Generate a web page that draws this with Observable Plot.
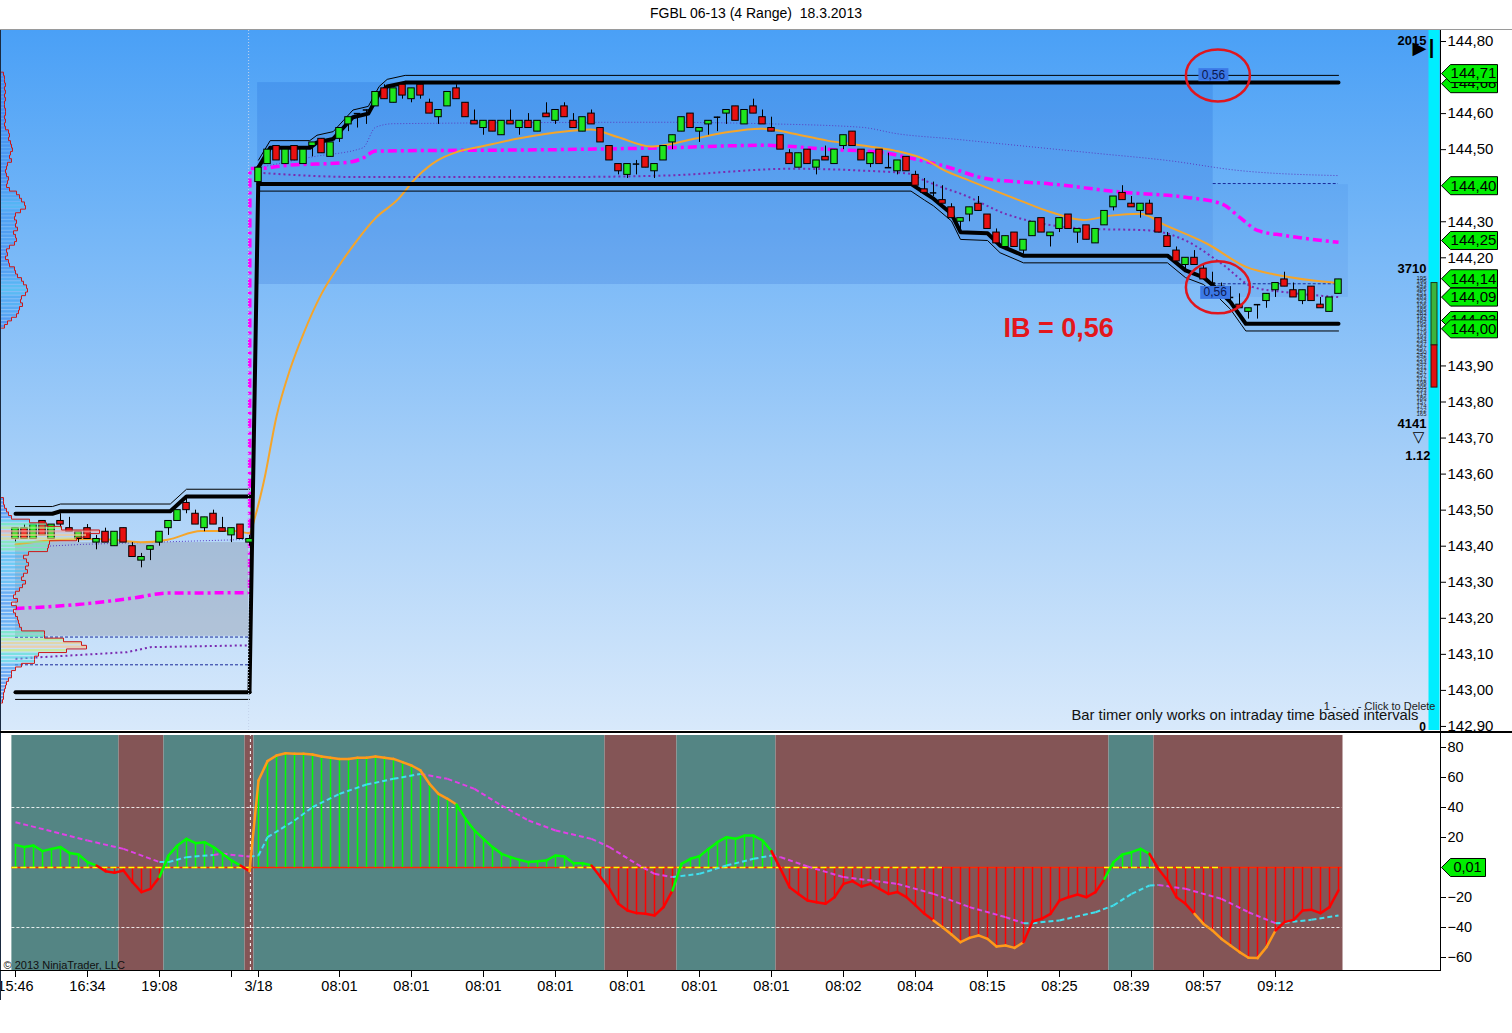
<!DOCTYPE html>
<html><head><meta charset="utf-8">
<script src="https://cdn.jsdelivr.net/npm/d3@7"></script>
<script src="https://cdn.jsdelivr.net/npm/@observablehq/plot@0.6"></script>
<style>
body{margin:0;background:#fff;font-family:"Liberation Sans",Arial,"DejaVu Sans",sans-serif;}
#wrap{position:relative;width:1512px;height:1033px;overflow:hidden;background:#fff;}
.abs{position:absolute;}
#title{left:0;top:5px;width:1512px;text-align:center;font-size:14px;color:#000;}
#bg{left:0;top:30px;width:1440px;height:700px;background:linear-gradient(to bottom,#4aa0f6 0%,#76b7f7 30%,#a6cff8 62%,#d8e9fb 100%);}
svg.abs{left:0;}
</style></head>
<body><div id="wrap">
<div id="title" class="abs">FGBL 06-13 (4 Range)&nbsp;&nbsp;18.3.2013</div>
<div id="bg" class="abs"></div>
</div>
<script>
// ---------------- DATA ----------------
// candles (range bars), index 0..26 = previous session, 27..147 = 18.3.2013
const open = [
143.42,143.45,143.42,143.47,143.42,143.47,143.45,143.42,143.45,143.41,
143.44,143.40,143.45,143.40,143.36,143.39,143.41,143.45,143.47,143.52,
143.49,143.45,143.49,143.45,143.43,143.46,143.41,144.41,144.46,144.51,
144.46,144.51,144.46,144.51,144.53,144.48,144.53,144.57,144.60,144.61,
144.62,144.67,144.63,144.68,144.64,144.68,144.63,144.59,144.62,144.67,
144.63,144.58,144.56,144.58,144.54,144.58,144.56,144.58,144.55,144.60,
144.58,144.62,144.58,144.55,144.60,144.56,144.51,144.46,144.43,144.46,
144.48,144.44,144.47,144.52,144.55,144.60,144.55,144.57,144.59,144.60,
144.62,144.57,144.62,144.59,144.56,144.54,144.49,144.45,144.50,144.45,
144.48,144.46,144.51,144.55,144.50,144.46,144.50,144.45,144.44,144.48,
144.43,144.39,144.38,144.36,144.34,144.30,144.32,144.35,144.32,144.27,
144.23,144.27,144.22,144.26,144.31,144.26,144.28,144.32,144.27,144.29,
144.24,144.29,144.34,144.38,144.35,144.33,144.35,144.31,144.26,144.22,
144.18,144.20,144.17,144.13,144.12,144.09,144.07,144.05,144.07,144.08,
144.11,144.14,144.11,144.08,144.12,144.07,144.05,144.10];
const high = [
143.45,143.46,143.46,143.47,143.46,143.49,143.48,143.44,143.46,143.43,
143.45,143.44,143.45,143.41,143.38,143.40,143.44,143.47,143.50,143.53,
143.50,143.48,143.50,143.48,143.45,143.46,143.43,144.45,144.50,144.51,
144.50,144.51,144.50,144.52,144.53,144.52,144.56,144.59,144.60,144.61,
144.66,144.68,144.67,144.68,144.67,144.68,144.64,144.61,144.66,144.68,
144.63,144.61,144.58,144.58,144.58,144.61,144.58,144.60,144.58,144.63,
144.61,144.63,144.60,144.59,144.61,144.56,144.51,144.46,144.46,144.47,
144.48,144.46,144.51,144.54,144.59,144.60,144.56,144.58,144.59,144.61,
144.62,144.61,144.64,144.61,144.59,144.54,144.50,144.49,144.50,144.47,
144.51,144.50,144.54,144.55,144.50,144.49,144.50,144.49,144.47,144.48,
144.44,144.42,144.41,144.40,144.35,144.31,144.34,144.37,144.32,144.28,
144.26,144.27,144.25,144.30,144.31,144.27,144.31,144.32,144.28,144.29,
144.28,144.33,144.37,144.40,144.37,144.35,144.36,144.31,144.27,144.23,
144.20,144.22,144.18,144.16,144.13,144.12,144.10,144.06,144.07,144.10,
144.13,144.16,144.13,144.11,144.12,144.09,144.09,144.14];
const low = [
143.41,143.42,143.42,143.43,143.42,143.45,143.44,143.41,143.42,143.39,
143.41,143.40,143.41,143.37,143.34,143.36,143.40,143.43,143.47,143.49,
143.46,143.44,143.46,143.44,143.41,143.42,143.40,144.40,144.46,144.47,
144.46,144.47,144.46,144.48,144.49,144.48,144.52,144.55,144.56,144.57,
144.62,144.64,144.63,144.64,144.63,144.64,144.60,144.57,144.62,144.64,
144.59,144.57,144.54,144.55,144.54,144.57,144.54,144.56,144.55,144.59,
144.57,144.59,144.56,144.55,144.57,144.52,144.47,144.43,144.42,144.43,
144.45,144.42,144.47,144.50,144.55,144.56,144.52,144.54,144.55,144.57,
144.58,144.57,144.60,144.57,144.55,144.50,144.46,144.45,144.46,144.43,
144.47,144.46,144.50,144.51,144.47,144.45,144.46,144.45,144.43,144.44,
144.40,144.38,144.37,144.35,144.31,144.27,144.30,144.33,144.28,144.24,
144.22,144.23,144.21,144.26,144.27,144.23,144.27,144.28,144.24,144.25,
144.24,144.29,144.33,144.36,144.34,144.31,144.32,144.27,144.23,144.19,
144.16,144.18,144.14,144.12,144.09,144.08,144.06,144.03,144.03,144.06,
144.09,144.12,144.09,144.07,144.08,144.06,144.05,144.10];
const close = [
143.45,143.42,143.46,143.43,143.46,143.46,143.44,143.44,143.42,143.42,
143.41,143.44,143.41,143.37,143.37,143.40,143.44,143.47,143.50,143.50,
143.46,143.48,143.46,143.44,143.45,143.42,143.42,144.45,144.50,144.47,
144.50,144.47,144.50,144.52,144.49,144.52,144.56,144.59,144.60,144.61,
144.66,144.64,144.67,144.65,144.67,144.65,144.60,144.61,144.66,144.64,
144.59,144.57,144.58,144.55,144.58,144.57,144.58,144.56,144.58,144.59,
144.61,144.59,144.56,144.59,144.57,144.52,144.47,144.44,144.46,144.46,
144.45,144.46,144.51,144.54,144.59,144.56,144.56,144.58,144.59,144.61,
144.58,144.61,144.60,144.57,144.55,144.50,144.46,144.49,144.46,144.47,
144.47,144.50,144.54,144.51,144.47,144.49,144.46,144.45,144.47,144.44,
144.40,144.38,144.38,144.35,144.31,144.31,144.34,144.33,144.28,144.24,
144.26,144.23,144.25,144.30,144.27,144.27,144.31,144.28,144.28,144.25,
144.28,144.33,144.37,144.36,144.34,144.35,144.32,144.27,144.23,144.19,
144.20,144.18,144.14,144.13,144.09,144.09,144.06,144.06,144.07,144.10,
144.13,144.12,144.09,144.11,144.08,144.06,144.09,144.14];

// indicator lines: [bar index, price]
const preHigh = [[0,143.49],[4.1,143.49],[5,143.497],[17.2,143.497],[19,143.538],[26,143.538]];
const preLow = [[0,142.995],[26,142.995]];
const sessHigh = [[27,144.451],[28.3,144.505],[32.7,144.505],[33.5,144.52],[35.3,144.53],[36.4,144.56],[37.5,144.59],[39.2,144.60],[40.4,144.655],[41.3,144.675],[43.3,144.686],[147,144.686]];
const sessLow = [[27,144.405],[99.5,144.405],[101,144.38],[102,144.364],[104,144.322],[105,144.271],[108,144.268],[109.4,144.234],[112,144.206],[128,144.206],[130,144.165],[132,144.146],[133.7,144.109],[135,144.077],[136.7,144.017],[147,144.017]];
const THIN = 0.02; // offset of the thin companion lines
const upperDotPre = [[3.5,143.40],[7.4,143.405],[26,143.419]];
const upperDot = [[27,144.45],[33,144.48],[38.6,144.505],[40,144.562],[42,144.572],[72,144.576],[83,144.572],[94,144.562],[98,144.544],[104,144.53],[110,144.515],[120,144.49],[128,144.47],[136,144.442],[147,144.428]];
const lowerDotPre = [[0,143.088],[12.4,143.106],[15,143.12],[26,143.125]];
const lowerDot = [[27,144.436],[38,144.424],[60,144.424],[72,144.428],[86.4,144.447],[94,144.442],[99.4,144.433],[100.5,144.42],[103,144.395],[105,144.378],[110,144.322],[118.7,144.281],[126,144.276],[130,144.248],[134,144.184],[137.6,144.118],[141,144.105],[147,144.091]];
const magentaLine = [[0,143.227],[7.6,143.24],[13.3,143.257],[16.8,143.27],[26,143.271],[26.05,144.448],[27,144.448],[30,144.456],[37,144.465],[38.5,144.475],[40,144.496],[60,144.50],[72,144.505],[83,144.512],[91,144.50],[96,144.493],[99,144.479],[103,144.456],[108,144.419],[115,144.405],[123,144.382],[130,144.368],[134,144.35],[136,144.313],[138,144.276],[141,144.262],[147,144.243]];
const orangeLine = [[0,143.405],[3.9,143.416],[9.4,143.42],[13.9,143.411],[16.9,143.418],[20.6,143.442],[24.3,143.442],[26,143.436],[26.6,143.48],[27.6,143.58],[29,143.76],[30.5,143.89],[32,143.99],[34,144.10],[36,144.18],[38,144.25],[40,144.31],[42.4,144.36],[44.6,144.424],[46.9,144.47],[49,144.493],[52,144.51],[55.7,144.53],[61.3,144.551],[63.9,144.556],[66.9,144.535],[70.6,144.509],[72,144.512],[75.4,144.53],[79,144.548],[82.8,144.558],[84,144.556],[86.5,144.544],[90.2,144.525],[93.9,144.512],[97.6,144.498],[101.3,144.47],[103,144.445],[106,144.414],[111.5,144.36],[115,144.327],[118.7,144.305],[121.7,144.317],[125,144.322],[127.8,144.29],[132.4,144.239],[136.8,144.174],[140.5,144.151],[146.1,144.132],[147,144.13]];

// value-area boxes and dashed levels
const preVA = {x1:0, x2:25.9, y1:143.15, y2:143.41};
const ibBox = {x1:26.9, x2:133.08, y1:144.126, y2:144.686};
const box2 = {x1:133.08, x2:148.1, y1:144.09, y2:144.403};
const dashLevels = [{a:0,b:26,p:143.148},{a:0,b:26,p:143.071},{a:133.08,b:147,p:144.406},{a:133.08,b:147,p:144.128}];
const sessionBreak = 25.9;

// volume profiles (width units), price ladder step 0.01 from top
const sessProfTop = 144.71;
const sessProfVol = [2,3,3,4,3,4,3,4,3,3, 4,4,3,4,3,4,7,8,7,9, 10,11,9,8,10,6,5,4,5,7, 6,5,8,15,18,20,23,24,19,14, 13,15,14,16,12,14,15,13,8,5, 6,4,7,8,13,14,16,20,22,25, 26,24,20,19,21,18,17,15,10,6, 3];
const preProfTop = 143.53;
const preProfVol = [2,2,3,5,7,10,28,45,60,98, 85,75,48,47,46,27,22,25,27,24, 26,22,20,24,21,18,14,12,16,10, 15,12,14,16,17,18,20,43,43,62, 80,85,65,37,33,33,20,14,10,10, 7,5,4,3,2,2,1];
const TICK = 0.01;

// annotations
const ibCircles = [{i:133.6, p:144.706}, {i:133.6, p:144.118}];
const ibLabels = [{i:133.1, p:144.708, t:"0,56"}, {i:133.3, p:144.104, t:"0,56"}];
const ibText = {i:115.9, p:144.004, t:"IB = 0,56"};
const tagLevel = [144.683, 144.711, 144.40, 144.248, 144.142, 144.091, 144.026, 144.003];
const tagText  = ["144,68","144,71","144,40","144,25","144,14","144,09","144,03","144,00"];
const deltaBar = {top:144.13, mid:143.957, bottom:143.84};
const ladder = ["195","196","243","385","251","283","223","106","185","283","192","184","195","173","179","193","234","237","257","250","242","229","244","231","247","257","212","198","205","233","214","186","157","174","122","165"];
const priceTicks = [144.8,144.6,144.5,144.3,144.2,143.9,143.8,143.7,143.6,143.5,143.4,143.3,143.2,143.1,143.0,142.9];

// lower panel oscillator
const osc = [
15.1,13.6,14.7,10.9,12.4,13.6,9.6,8.7,3.6,1.3,
-2.5,-3.5,-2,-9.8,-16.4,-14.2,-6.4,8,14.7,19.1,
16.2,16.9,13.6,9.1,4.7,1.3,-2.5,
58,70.9,74.7,76.2,75.8,75.8,75.3,74,73.1,72.4,
72.4,73.1,73.1,74,73.1,72.4,70.2,68,64.7,55.8,
49.1,45.8,42,32.4,24.7,19.1,13.6,9.1,6.9,5.1,
3.6,4.2,4.7,8,7.3,2.9,2.9,1.3,-6.4,-14.2,
-24.2,-28.7,-30.4,-30.9,-32,-26.4,-15.3,2.4,5.8,7.5,
12.4,16.9,20.2,19.1,21.3,21.3,18,10.9,-0.9,-13.1,
-17.6,-22,-23.1,-24.2,-19.8,-10.9,-9.1,-12.7,-10.9,-14.2,
-17.6,-16.4,-19.8,-25.3,-30.9,-35.3,-39.8,-44.7,-49.8,-46.9,
-45.3,-47.6,-52.7,-52,-53.6,-49.8,-36,-34.2,-30.9,-22,
-19.8,-18,-19.8,-16.4,-7.6,3.6,8.7,10.2,12.4,9.1,
-1,-8.7,-19.8,-24.2,-30.9,-37.6,-42,-47.6,-52,-56.4,
-60.2,-60.4,-53.1,-42,-36.4,-34.9,-28.7,-28.2,-30.4,-26.4,-15.3];
const sigIdx = [0,8,12,16,17,19,22,23,26,27,28,31,33,36,39,42,45,48,51,54,57,60,64,66,69,71,73,76,79,82,84,85,88,92,98,102,106,110,112,113,116,120,122,124,126,127,130,134,137,140,141,144,147];
const sigVal = [30.2,18,12.4,3.6,3.6,6.9,8.4,9.1,7.3,8,20.2,31.3,40.2,49.1,55.3,59.1,62.4,59.1,52.4,41.3,31.3,24.7,19.1,13.6,2.4,-4.2,-6.4,-4.2,1.3,5.8,8,6.9,0.7,-6.4,-10.9,-17.6,-26.4,-33.1,-37.1,-37.1,-35.3,-29.8,-25.3,-17.6,-12,-11.6,-14.2,-20.9,-29.8,-37.1,-36.8,-34.9,-32];
const bands = [[-0.4,11.5,"u"],[11.5,16.5,"d"],[16.5,25.5,"u"],[25.5,26.5,"d"],[26.5,65.5,"u"],[65.5,73.5,"d"],[73.5,84.5,"u"],[84.5,121.5,"d"],[121.5,126.5,"u"],[126.5,147.5,"d"]];
const yellowZero = [[-0.4,26.5],[60.5,103],[121,133.7]];
const oscLevels = [40,-40];
const EXTREME = 37;
const oscTag = {v:0.01, t:"0,01"};
const xTickIdx = [0,8,16,24,27,36,44,52,60,68,76,84,92,100,108,116,124,132,140];
const xTickLab = ["15:46","16:34","19:08","","3/18","08:01","08:01","08:01","08:01","08:01","08:01","08:01","08:02","08:04","08:15","08:25","08:39","08:57","09:12"];

// ---------------- LAYOUT ----------------
const W = 1512, FR = 1440, MR = W - FR;
const X0 = -15/9, X1 = X0 + FR/9;            // 9 px per bar, bar 0 at x=15
const px2i = px => px/9 + X0;
const PPU = 360.5;                            // px per price unit
const YTOP = 144.80 + 11/PPU, YBOT = YTOP - 700/PPU;
const LY1 = 80 + 14/1.5, LY0 = LY1 - 237/1.5;
const FONT = '"Liberation Sans", Arial, "DejaVu Sans", sans-serif';
const GREEN = "#1ee61e", RED = "#e81010";
const fmtP = d => d.toFixed(2).replace(".", ",");

const bars = open.map((o,i)=>({i,o,h:high[i],l:low[i],c:close[i]}));
const bodies = bars.filter(d=>d.o!==d.c);
const dojis = bars.filter(d=>d.o===d.c);

const profColor = d3.scaleLinear().domain([0,18,30,45,65,85,100])
  .range(["#3f7ef0","#47a2f3","#52d2f2","#66eeb4","#c6f07c","#f6c88e","#f5a0a0"]).clamp(true);
function profile(top, vols){ return vols.map((v,k)=>({p: top - k*TICK, v})); }
function outline(prof){
  const pts = [[0, prof[0].p + TICK/2]];
  for (const d of prof){ pts.push([d.v, d.p + TICK/2], [d.v, d.p - TICK/2]); }
  pts.push([0, prof[prof.length-1].p - TICK/2]);
  return pts;
}
const sessProf = profile(sessProfTop, sessProfVol);
const preProf = profile(preProfTop, preProfVol);

// custom symbols
function tagSymbol(w){ return {draw(ctx){ ctx.moveTo(0,0); ctx.lineTo(9,-9); ctx.lineTo(w,-9); ctx.lineTo(w,9); ctx.lineTo(9,9); ctx.closePath(); }}; }
const ellipseSym = {draw(ctx){ const rx=32, ry=26, k=0.5523;
  ctx.moveTo(rx,0); ctx.bezierCurveTo(rx,ry*k,rx*k,ry,0,ry); ctx.bezierCurveTo(-rx*k,ry,-rx,ry*k,-rx,0);
  ctx.bezierCurveTo(-rx,-ry*k,-rx*k,-ry,0,-ry); ctx.bezierCurveTo(rx*k,-ry,rx,-ry*k,rx,0); ctx.closePath(); }};
const labelBoxSym = {draw(ctx){ ctx.moveTo(-15,-6.5); ctx.lineTo(15,-6.5); ctx.lineTo(15,6.5); ctx.lineTo(-15,6.5); ctx.closePath(); }};

const P = d => d[0], V = d => d[1];
const fixText = (t, dx, dy, o) => Plot.text([t], {text: d=>d, frameAnchor:"top-left", dx, dy, lineAnchor:"middle", ...o});
const dashed = {strokeLinecap:"butt", strokeLinejoin:"miter"};

const tagMarks = tagLevel.flatMap((p,k) => [
  Plot.dot([p], {y:d=>d, frameAnchor:"right", dx:1, symbol:tagSymbol(56), fill:"#00ee00", stroke:"#000", strokeWidth:1}),
  Plot.text([p], {y:d=>d, text:()=>tagText[k], frameAnchor:"right", dx:33, textAnchor:"middle", fontSize:15, fill:"#000"})
]);

const main = Plot.plot({
  width: W, height: 700, marginLeft: 0, marginRight: MR, marginTop: 0, marginBottom: 0,
  x: {domain: [X0, X1], axis: null},
  y: {domain: [YBOT, YTOP], axis: "right", ticks: priceTicks, tickFormat: fmtP, tickSize: 5, tickPadding: 2, label: null},
  style: {background: "transparent", fontFamily: FONT, fontSize: "15px", color: "#000", overflow: "visible"},
  marks: [
    Plot.rect([preVA], {x1:"x1", x2:"x2", y1:"y1", y2:"y2", fill:"#80808c", fillOpacity:0.3}),
    Plot.rect([ibBox], {x1:"x1", x2:"x2", y1:"y1", y2:"y2", fill:"#0040c0", fillOpacity:0.15}),
    Plot.rect([box2], {x1:"x1", x2:"x2", y1:"y1", y2:"y2", fill:"#0040c0", fillOpacity:0.07}),
    Plot.rect([0], {x1: ()=>px2i(1428.5), x2: ()=>px2i(1439.5), fill:"#00eeff"}),
    Plot.ruleY(dashLevels, {y:"p", x1:"a", x2:"b", stroke:"#1a2a9a", strokeDasharray:"3,2", strokeWidth:1, ...dashed}),
    Plot.line(upperDotPre, {x:P, y:V, stroke:"#5a3cc0", strokeWidth:1, strokeDasharray:"1,2", ...dashed}),
    Plot.line(upperDot, {x:P, y:V, stroke:"#5a3cc0", strokeWidth:1, strokeDasharray:"1,2", curve:"monotone-x", ...dashed}),
    Plot.line(lowerDotPre, {x:P, y:V, stroke:"#7a2ab0", strokeWidth:2, strokeDasharray:"2,3", ...dashed}),
    Plot.line(lowerDot, {x:P, y:V, stroke:"#7a2ab0", strokeWidth:2, strokeDasharray:"2,3", curve:"monotone-x", ...dashed}),
    Plot.line(magentaLine, {x:P, y:V, stroke:"#ff00ff", strokeWidth:3.5, strokeDasharray:"9,4,3,4", curve:"monotone-x", ...dashed}),
    Plot.line(orangeLine, {x:P, y:V, stroke:"#f5a52a", strokeWidth:2, curve:"monotone-x"}),
    // high/low lines
    Plot.line(preHigh, {x:P, y:V, stroke:"#000", strokeWidth:4}),
    Plot.line(preHigh, {x:P, y:d=>d[1]+THIN, stroke:"#000", strokeWidth:1}),
    Plot.line(preLow, {x:P, y:V, stroke:"#000", strokeWidth:4}),
    Plot.line(preLow, {x:P, y:d=>d[1]-THIN, stroke:"#000", strokeWidth:1}),
    Plot.line([preLow[preLow.length-1], sessHigh[0]], {x:P, y:V, stroke:"#000", strokeWidth:4}),
    Plot.line(sessHigh, {x:P, y:V, stroke:"#000", strokeWidth:4}),
    Plot.line(sessHigh, {x:P, y:d=>d[1]+THIN, stroke:"#000", strokeWidth:1}),
    Plot.line(sessLow, {x:P, y:V, stroke:"#000", strokeWidth:4}),
    Plot.line(sessLow, {x:P, y:d=>d[1]-THIN, stroke:"#000", strokeWidth:1}),
    Plot.ruleX([sessionBreak], {stroke:"#c4d2ea", strokeDasharray:"1,2", strokeWidth:1, ...dashed}),
    // candles
    Plot.ruleX(bars, {x:"i", y1:"l", y2:"h", stroke:"#000", strokeWidth:1}),
    Plot.rect(bodies, {x1:d=>d.i-0.36, x2:d=>d.i+0.36, y1:d=>Math.min(d.o,d.c), y2:d=>Math.max(d.o,d.c), fill:d=>d.c>d.o?GREEN:RED, stroke:"#000", strokeWidth:1}),
    Plot.ruleY(dojis, {x1:d=>d.i-0.36, x2:d=>d.i+0.36, y:"o", stroke:"#000", strokeWidth:1.5}),
    // volume profiles
    Plot.rect(sessProf, {x1:()=>px2i(1), x2:d=>px2i(1+d.v), y1:d=>d.p-TICK/2, y2:d=>d.p+TICK/2, fill:d=>profColor(d.v), fillOpacity:0.75, insetTop:0.6, insetBottom:0.6}),
    Plot.rect(preProf, {x1:()=>px2i(1), x2:d=>px2i(1+d.v), y1:d=>d.p-TICK/2, y2:d=>d.p+TICK/2, fill:d=>profColor(d.v), fillOpacity:0.7, insetTop:0.6, insetBottom:0.6}),
    Plot.line(outline(sessProf), {x:d=>px2i(1+d[0]), y:V, stroke:"#cc1818", strokeWidth:1}),
    Plot.line(outline(preProf), {x:d=>px2i(1+d[0]), y:V, stroke:"#cc1818", strokeWidth:1}),
    // IB annotations
    Plot.dot(ibLabels, {x:"i", y:"p", symbol:labelBoxSym, fill:"#3b78e6", stroke:"none"}),
    Plot.text(ibLabels, {x:"i", y:"p", text:"t", fill:"#0b1850", fontSize:12}),
    Plot.dot(ibCircles, {x:"i", y:"p", symbol:ellipseSym, fill:"none", stroke:"#e0161e", strokeWidth:2.5}),
    Plot.text([ibText], {x:"i", y:"p", text:"t", fill:"#e3171c", fontSize:27, fontWeight:"bold"}),
    // delta bar
    Plot.rect([deltaBar], {x1:()=>px2i(1431), x2:()=>px2i(1437), y1:"mid", y2:"top", fill:"#3cb43c", stroke:"#1a3a1a", strokeWidth:1}),
    Plot.rect([deltaBar], {x1:()=>px2i(1431), x2:()=>px2i(1437), y1:"bottom", y2:"mid", fill:"#e01010", stroke:"#3a1010", strokeWidth:1}),
    // right side texts
    fixText("2015", 1426, 10, {textAnchor:"end", fontWeight:"bold", fontSize:13}),
    fixText("▶", 1419, 18, {textAnchor:"middle", fontSize:18}),
    fixText("|", 1431, 17, {textAnchor:"middle", fontWeight:"bold", fontSize:20}),
    fixText("3710", 1426, 238, {textAnchor:"end", fontWeight:"bold", fontSize:13}),
    Plot.text(ladder, {x:()=>px2i(1426), y:(d,k)=>deltaBar.top + 0.015 - k*0.0108, text:d=>d, textAnchor:"end", fontSize:6, fill:"#222"}),
    fixText("4141", 1426, 393, {textAnchor:"end", fontWeight:"bold", fontSize:13}),
    fixText("▽", 1418, 407, {textAnchor:"middle", fontSize:15}),
    fixText("1.12", 1430, 425, {textAnchor:"end", fontWeight:"bold", fontSize:13}),
    fixText("1 -  .  . - Click to Delete", 1435, 676, {textAnchor:"end", fontSize:11, fill:"#222"}),
    fixText("Bar timer only works on intraday time based intervals", 1418, 685, {textAnchor:"end", fontSize:14.8, fill:"#111"}),
    fixText("0", 1422, 697, {textAnchor:"middle", fontWeight:"bold", fontSize:12}),
    // price tags
    ...tagMarks
  ]
});
main.classList.add("abs"); main.style.top = "30px";
document.getElementById("wrap").appendChild(main);

// lower panel
const oscPts = osc.map((v,i)=>({i,v}));
const oscColor = {o:"#ff9a1a", g:"#00ff00", r:"#ff0000"};
const oscState = v => Math.abs(v) >= EXTREME ? "o" : v > 0 ? "g" : "r";
const oscSegs = [];
for (let i=1;i<osc.length;i++){ const s = oscColor[oscState(osc[i])]; oscSegs.push({i:i-1, v:osc[i-1], k:i, s}, {i, v:osc[i], k:i, s}); }
const sigSegs = [];
for (let j=1;j<sigIdx.length;j++){ const s = osc[sigIdx[j]] > sigVal[j] ? "#3fe0ee" : "#e040e6"; sigSegs.push({i:sigIdx[j-1], v:sigVal[j-1], k:j, s}, {i:sigIdx[j], v:sigVal[j], k:j, s}); }

const lower = Plot.plot({
  width: W, height: 267, marginLeft: 0, marginRight: MR, marginTop: 0, marginBottom: 30,
  x: {domain:[X0, X1], ticks: xTickIdx, tickFormat: d => xTickLab[xTickIdx.indexOf(d)], tickSize: 7, tickPadding: 3, label: null},
  y: {domain:[LY0, LY1], axis:"right", ticks:[80,60,40,20,-20,-40,-60], tickSize:5, tickPadding:2, label:null},
  style: {background:"transparent", fontFamily: FONT, fontSize:"14.5px", color:"#000", overflow:"visible"},
  marks: [
    Plot.rect(bands, {x1:d=>d[0], x2:d=>d[1], fill:d=>d[2]==="u"?"#548584":"#845556", insetTop:2}),
    Plot.ruleY(oscLevels, {y:d=>d, x1:()=>-0.4, x2:()=>147.4, stroke:"#ffffff", strokeDasharray:"3,2", strokeWidth:1, strokeOpacity:0.85, ...dashed}),
    Plot.ruleX([sessionBreak+0.2], {y1:()=>LY0, y2:()=>LY1-1.4, stroke:"#ffffff", strokeDasharray:"3,3", strokeWidth:1, ...dashed}),
    Plot.ruleY([0], {y:d=>d, x1:()=>-0.4, x2:()=>147.4, stroke:"#ff2a00", strokeWidth:1.5}),
    Plot.ruleX(oscPts, {x:"i", y1:()=>0, y2:"v", stroke:d=>d.v>=0?"#00ff00":"#ff0000", strokeWidth:1.5}),
    Plot.ruleY(yellowZero, {y:()=>0, x1:d=>d[0], x2:d=>d[1], stroke:"#ffff00", strokeWidth:1.5, strokeDasharray:"6,3", ...dashed}),
    Plot.line(sigSegs, {x:"i", y:"v", z:"k", stroke:"s", strokeWidth:2, strokeDasharray:"5,3", ...dashed}),
    Plot.line(oscSegs, {x:"i", y:"v", z:"k", stroke:"s", strokeWidth:2.5, strokeLinecap:"round"}),
    Plot.dot([oscTag], {y:"v", frameAnchor:"right", dx:1, symbol:tagSymbol(44), fill:"#00ee00", stroke:"#000", strokeWidth:1}),
    Plot.text([oscTag], {y:"v", text:"t", frameAnchor:"right", dx:27, textAnchor:"middle", fontSize:14.5}),
    Plot.text(["© 2013 NinjaTrader, LLC"], {text:d=>d, frameAnchor:"top-left", dx:3, dy:232, textAnchor:"start", lineAnchor:"middle", fontSize:11, fill:"#111"})
  ]
});
lower.classList.add("abs"); lower.style.top = "733px";
document.getElementById("wrap").appendChild(lower);

// frame lines
function line(l,t,w,h,c){ const d=document.createElement("div"); d.className="abs"; Object.assign(d.style,{left:l+"px",top:t+"px",width:w+"px",height:h+"px",background:c}); document.getElementById("wrap").appendChild(d); }
line(0,29,1512,1,"#9a9a9a");
line(0,30,1,970,"#1a2a40");
line(1440,30,1,702,"#000");
line(0,731,1512,2,"#000");
line(1440,733,1,237,"#000");
line(0,970,1441,1,"#000");
</script>
</body></html>
